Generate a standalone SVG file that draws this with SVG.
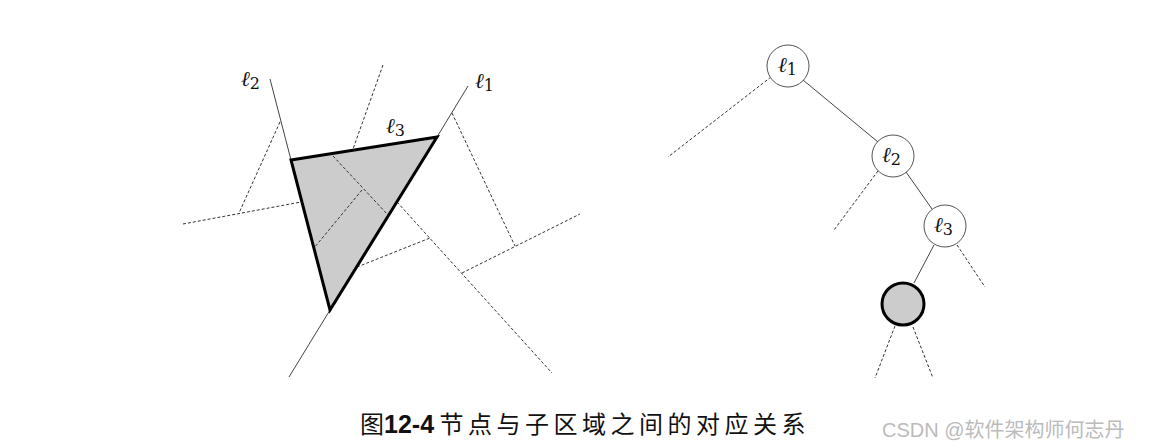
<svg xmlns="http://www.w3.org/2000/svg" width="1152" height="448" viewBox="0 0 1152 448">
<style>
.solid{stroke:#444;stroke-width:1;fill:none}
.dash{stroke:#333;stroke-width:1;fill:none;stroke-dasharray:3 2}
.lbl{font-family:"DejaVu Serif",serif;font-style:italic;font-size:21px;fill:#111}
.sub{font-size:16px;font-style:normal}
.node{fill:#fff;stroke:#555;stroke-width:1}
.leaf{fill:#ccc;stroke:#000;stroke-width:3}
.cap{font-family:"Noto Sans CJK SC",sans-serif;font-size:24px;fill:#111}
</style>
<rect width="1152" height="448" fill="#fff"/>
<g id="region">
<polygon points="291,160 437,137 330,310" fill="#ccc" stroke="none"/>
<g id="dashed-lines">
<line class="dash" x1="280" y1="122" x2="239" y2="213"/>
<line class="dash" x1="183" y1="224" x2="301" y2="202"/>
<line class="dash" x1="383" y1="65" x2="353" y2="149"/>
<line class="dash" x1="333" y1="156" x2="388" y2="215"/>
<line class="dash" x1="362" y1="190" x2="314" y2="248"/>
<line class="dash" x1="397" y1="202" x2="552" y2="373"/>
<line class="dash" x1="357" y1="267" x2="430" y2="238"/>
<line class="dash" x1="452" y1="113" x2="515" y2="246"/>
<line class="dash" x1="462" y1="273" x2="580" y2="214"/>
</g>
<line class="solid" x1="270" y1="79" x2="291" y2="160"/>
<line class="solid" x1="437" y1="137" x2="468" y2="86"/>
<line class="solid" x1="330" y1="310" x2="289" y2="377"/>
<polygon points="291,160 437,137 330,310" fill="none" stroke="#000" stroke-width="3" stroke-linejoin="miter"/>
<text class="lbl" x="241" y="86">ℓ<tspan class="sub" dy="3">2</tspan></text>
<text class="lbl" x="475" y="88">ℓ<tspan class="sub" dy="3">1</tspan></text>
<text class="lbl" x="386" y="133">ℓ<tspan class="sub" dy="3">3</tspan></text>
</g>
<g id="connectors">
<line class="solid" x1="803" y1="80" x2="878" y2="142"/>
<line class="dash" x1="771" y1="77" x2="668" y2="157"/>
<line class="dash" x1="878" y1="171" x2="834" y2="230"/>
<line class="solid" x1="906" y1="172" x2="932" y2="209"/>
<line class="solid" x1="934" y1="245" x2="914" y2="283"/>
<line class="dash" x1="957" y1="245" x2="985" y2="287"/>
<line class="dash" x1="895" y1="326" x2="875" y2="378"/>
<line class="dash" x1="913" y1="327" x2="933" y2="378"/>
</g>
<g id="node-l1">
<circle class="node" cx="788" cy="66" r="21"/>
<text class="lbl" x="778" y="72">ℓ<tspan class="sub" dy="3">1</tspan></text>
</g>
<g id="node-l2">
<circle class="node" cx="893" cy="156" r="21"/>
<text class="lbl" x="882" y="162">ℓ<tspan class="sub" dy="3">2</tspan></text>
</g>
<g id="node-l3">
<circle class="node" cx="945" cy="226" r="21"/>
<text class="lbl" x="934" y="232">ℓ<tspan class="sub" dy="3">3</tspan></text>
</g>
<g id="node-leaf">
<circle class="leaf" cx="903" cy="304" r="21"/>
</g>
<g id="caption">
<text class="cap" x="360" y="433">图<tspan font-family="Liberation Sans,sans-serif" font-weight="bold" font-size="25">12-4</tspan> <tspan letter-spacing="4.5">节点与子区域之间的对应关系</tspan></text>
</g>
<text x="882" y="437" font-family="Liberation Sans,Noto Sans CJK SC,sans-serif" font-size="20" fill="#bbb">CSDN @软件架构师何志丹</text>
</svg>
